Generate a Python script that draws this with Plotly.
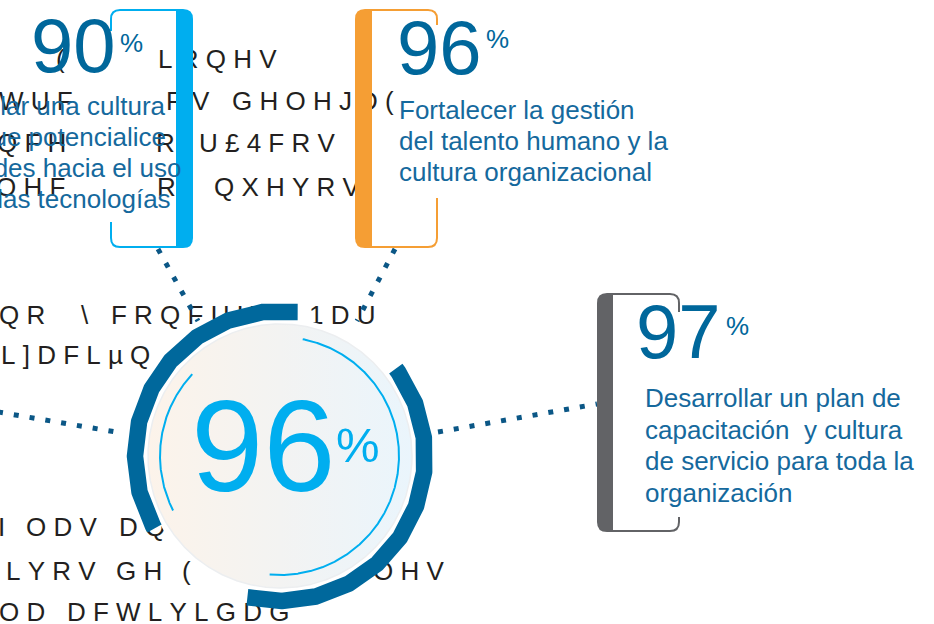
import numpy as np
import plotly.graph_objects as go

# ---------------- data ----------------
central_value = 96
box_values = [90, 96, 97]
box_colors = ["#00AEEF", "#F59E34", "#626366"]
box1_lines = ["Desarrollar una cultura", "que potencialice", "habilidades hacia el uso", "de las tecnologías"]
box2_lines = ["Fortalecer la gestión", "del talento humano y la", "cultura organizacional"]
box3_lines = ["Desarrollar un plan de", "capacitación  y cultura", "de servicio para toda la", "organización"]

# background (garbled) text runs
bg_text = ["(", "L R Q H V",
           "W U F", "R V", "G H O H J D (",
           "Q F H", "R", "U £ 4 F R V",
           "O H F", "R", "Q X H Y R V",
           "Q R", "\\", "F R Q F U H W", "1 D U",
           "L ] D F L µ Q",
           "I", "O D V", "D Q",
           "L Y R V", "G H", "(", "O H V",
           "O D", "D F W L Y L G D G"]
bg_x = [56, 158,
        -1, 166, 232,
        -3, 156, 199,
        -4, 157, 214,
        -1, 81, 111, 309,
        1,
        -2, 26, 119,
        6, 116, 182, 373,
        -1, 67]
bg_y = [61, 61,
        103, 103, 103,
        145, 145, 145,
        189, 189, 189,
        317, 317, 317, 317,
        357,
        529, 529, 529,
        573, 573, 573, 573,
        614, 614]

# ---------------- layout constants ----------------
W, H = 934, 624
CX, CY = 280, 456
NUM_COL = "#00679B"
TXT_COL = "#15699D"
DOT_COL = "#0B5786"
RING_COL = "#00689C"
CYAN = "#00AEEF"
FONT = "Arial, Liberation Sans, sans-serif"


def arc(r, a0, a1, n=720):
    t = np.radians(np.linspace(a0, a1, n))
    return CX + r * np.cos(t), CY - r * np.sin(t)


fig = go.Figure()

# background garbled text (lowest layer)
fig.add_trace(go.Scatter(
    x=bg_x, y=bg_y, mode="text",
    text=[s.replace(" ", "\u00a0") for s in bg_text],
    textposition="middle right",
    textfont=dict(family=FONT, size=26, color="#231F20"),
    hoverinfo="skip"))

# dotted connector lines
connectors = [((158, 249), (198, 321)),
              ((395, 249), (357, 321)),
              ((-2, 412), (122, 433)),
              ((438, 432), (597, 404))]
for (x0, y0), (x1, y1) in connectors:
    fig.add_trace(go.Scatter(x=[x0, x1], y=[y0, y1], mode="lines",
                             line=dict(color=DOT_COL, width=5, dash="5px,11px"),
                             hoverinfo="skip"))

# white backing circle
wx, wy = arc(138, 0, 360)
fig.add_trace(go.Scatter(x=wx, y=wy, mode="lines", fill="toself",
                         fillcolor="white", line=dict(width=0), hoverinfo="skip"))

# gradient disc
dx, dy = arc(132, 0, 360)
fig.add_trace(go.Scatter(x=dx, y=dy, mode="lines", fill="toself",
                         fillgradient=dict(type="horizontal",
                                           colorscale=[[0, "#FCF3EA"], [0.5, "#F3F3F2"], [1, "#EAF5FC"]]),
                         line=dict(width=1.5, color="#ECEEF0"), hoverinfo="skip"))

# thick outer ring arcs
for a0, a1 in [(83, 210), (-103, 37)]:
    ax_, ay_ = arc(145, a0, a1)
    fig.add_trace(go.Scatter(x=ax_, y=ay_, mode="lines",
                             line=dict(color=RING_COL, width=16.5), hoverinfo="skip"))

# thin inner arcs
for r, a0, a1 in [(120, 137, 207), (119, -95, 79)]:
    ax_, ay_ = arc(r, a0, a1)
    fig.add_trace(go.Scatter(x=ax_, y=ay_, mode="lines",
                             line=dict(color=CYAN, width=2), hoverinfo="skip"))

# ---------------- box shapes ----------------
shapes = []
# cyan box (bar on right)
shapes.append(dict(type="path", layer="above", fillcolor=box_colors[0], line=dict(width=0),
                   path="M 176,9 L 183,9 Q 193,9 193,19 L 193,238 Q 193,248 183,248 L 176,248 Z"))
for p in ["M 177,10 L 120,10 Q 111,10 111,19 L 111,31",
          "M 111,222 L 111,238 Q 111,247 120,247 L 177,247"]:
    shapes.append(dict(type="path", layer="above", line=dict(color=box_colors[0], width=2), path=p))
# orange box (bar on left)
shapes.append(dict(type="path", layer="above", fillcolor=box_colors[1], line=dict(width=0),
                   path="M 372,9 L 365,9 Q 355,9 355,19 L 355,238 Q 355,248 365,248 L 372,248 Z"))
for p in ["M 371,10 L 428,10 Q 437,10 437,19 L 437,25",
          "M 437,198 L 437,238 Q 437,247 428,247 L 371,247"]:
    shapes.append(dict(type="path", layer="above", line=dict(color=box_colors[1], width=2), path=p))
# gray box (bar on left)
shapes.append(dict(type="path", layer="above", fillcolor=box_colors[2], line=dict(width=0),
                   path="M 613,293 L 607,293 Q 597,293 597,303 L 597,522 Q 597,532 607,532 L 613,532 Z"))
for p in ["M 612,294 L 670,294 Q 679,294 679,303 L 679,312",
          "M 679,517 L 679,522 Q 679,531 670,531 L 612,531"]:
    shapes.append(dict(type="path", layer="above", line=dict(color=box_colors[2], width=2), path=p))

# ---------------- annotations ----------------
ann = []


def add_text(x, y, text, size, color, anchor="left"):
    ann.append(dict(x=x, y=y, xref="x", yref="y", text=text, showarrow=False,
                    xanchor=anchor, yanchor="middle",
                    font=dict(family=FONT, size=size, color=color)))


# central value
add_text(263, 446, str(central_value), 130, CYAN, "center")
add_text(358, 445, "%", 49, CYAN, "center")

# box values
num_pos = [(73, 45), (439, 47), (678, 331)]
pct_pos = [(131, 43), (497, 39), (737, 326)]
for v, (nx, ny), (px, py) in zip(box_values, num_pos, pct_pos):
    add_text(nx, ny, str(v), 76, NUM_COL, "center")
    add_text(px, py, "%", 26, NUM_COL, "center")

# descriptions
b1_right = [168, 168, 184, 173]
b1_y = [106, 137, 168, 199]
for t, x, y in zip(box1_lines, b1_right, b1_y):
    add_text(x, y, t, 26, TXT_COL, "right")
for i, t in enumerate(box2_lines):
    add_text(397, 110 + 31 * i, t, 26, TXT_COL, "left")
for i, t in enumerate(box3_lines):
    add_text(643, 398 + 31.5 * i, t.replace("  ", " \u00a0"), 26, TXT_COL, "left")

fig.update_layout(
    width=W, height=H, margin=dict(l=0, r=0, t=0, b=0),
    paper_bgcolor="white", plot_bgcolor="white", showlegend=False,
    xaxis=dict(range=[0, W], visible=False, fixedrange=True),
    yaxis=dict(range=[H, 0], visible=False, fixedrange=True),
    shapes=shapes, annotations=ann,
)

fig.write_html("out.html", config={"displayModeBar": False},
               post_script="document.body.style.margin='0';document.body.style.overflow='hidden';")
